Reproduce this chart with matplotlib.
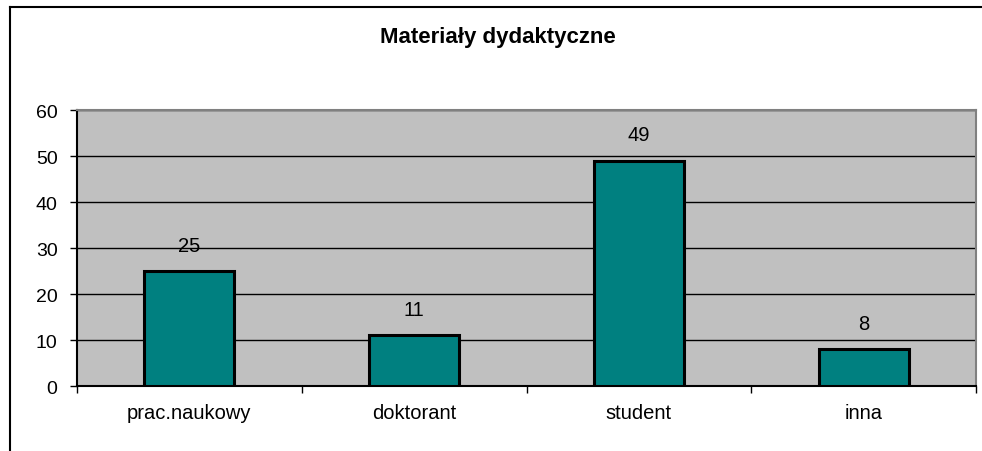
import matplotlib
matplotlib.use('Agg')
import matplotlib.pyplot as plt
from matplotlib.lines import Line2D

categories = ['prac.naukowy', 'doktorant', 'student', 'inna']
values = [25, 11, 49, 8]
yticks = [0, 10, 20, 30, 40, 50, 60]

plt.rcParams['font.family'] = ['Liberation Sans', 'DejaVu Sans']

fig = plt.figure(figsize=(9.82, 4.52), dpi=100)
ax = fig.add_axes([77 / 982, 1 - 387 / 452, 899 / 982, 276 / 452])
ax.set_facecolor('#C0C0C0')

x = range(len(categories))
ax.bar(x, values, width=0.4, color='#008080', edgecolor='black', linewidth=2.2, zorder=3)
for i, v in zip(x, values):
    ax.text(i, v + 5.6, str(v), ha='center', va='center', fontsize=14.5, zorder=4)

ax.set_xlim(-0.5, len(categories) - 0.5)
ax.set_ylim(0, 60)
ax.set_yticks(yticks)
ax.yaxis.grid(True, color='black', linewidth=1.0, zorder=1)
ax.set_axisbelow(True)

# category labels centred, ticks at the boundaries
ax.set_xticks(list(x))
ax.set_xticklabels(categories, fontsize=14.5)
ax.tick_params(axis='x', length=0, pad=12)
ax.set_xticks([i - 0.5 for i in range(len(categories) + 1)], minor=True)
ax.tick_params(axis='x', which='minor', length=5, width=1, color='black', direction='out')
ax.tick_params(axis='y', labelsize=14, length=5, width=1, pad=9)

ax.spines['left'].set_color('black')
ax.spines['bottom'].set_color('black')
ax.spines['top'].set_color('#808080')
ax.spines['right'].set_color('#808080')
for s in ax.spines.values():
    s.set_linewidth(1.5)

fig.text(498 / 982, 1 - 38 / 452, 'Materiały dydaktyczne', ha='center', va='center',
         fontsize=16, fontweight='bold')

# outer chart border (left and top)
fig.add_artist(Line2D([9.5 / 982, 9.5 / 982], [0, 1 - 8 / 452], color='black', linewidth=1.5,
                      transform=fig.transFigure))
fig.add_artist(Line2D([9.5 / 982, 1], [1 - 8 / 452, 1 - 8 / 452], color='black', linewidth=1.5,
                      transform=fig.transFigure))

fig.savefig('out.png', dpi=100)
